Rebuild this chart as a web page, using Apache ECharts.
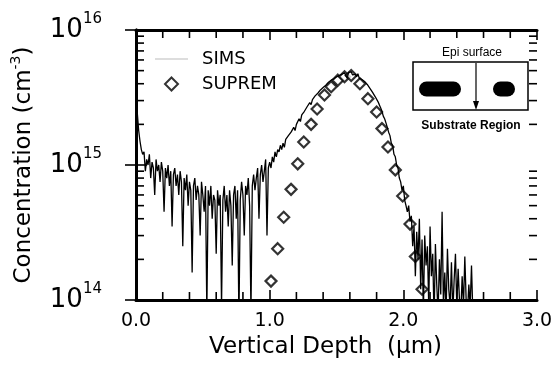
<!DOCTYPE html>
<html><head><meta charset="utf-8">
<script src="https://cdn.jsdelivr.net/npm/echarts@6/dist/echarts.min.js"></script>
<style>html,body{margin:0;padding:0;background:#fff}#c{width:553px;height:369px}</style>
</head><body><div id="c"></div>
<script>
// ---- data ----
const xTickLabels = ['0.0', '1.0', '2.0', '3.0'];
const xMinorTicks = [0.2, 0.4, 0.6, 0.8, 1.2, 1.4, 1.6, 1.8, 2.2, 2.4, 2.6, 2.8];
const yTickExponents = ['14', '15', '16'];
const yMinorTicks = [2e14, 3e14, 4e14, 5e14, 6e14, 7e14, 8e14, 9e14,
                     2e15, 3e15, 4e15, 5e15, 6e15, 7e15, 8e15, 9e15];
const X_MIN = 0, X_MAX = 3, Y_MIN = 1e14, Y_MAX = 1e16;
// SIMS profile: depth from 0 µm in 0.01 µm steps, concentration in units of 1e14 cm^-3
const simsStartDepth = 0.0;
const simsStepDepth = 0.01;
const simsConc = [
  32, 24, 18, 15, 13, 12, 12.5, 9, 11, 10,
  12, 8, 10.5, 9.5, 6, 11, 9, 10, 7.5, 10.5,
  9, 4.5, 9.5, 8, 10, 7, 9, 3.5, 8.5, 9.5,
  7, 8.5, 6, 9, 7.5, 2.5, 8, 6.5, 8.5, 5,
  7.5, 6.5, 1.6, 7, 8, 5.5, 7, 6, 3, 7.5,
  6, 4.5, 7, 0.8, 6.5, 5, 7, 4, 6, 5.5,
  2.2, 6.5, 5, 6, 0.9, 5.5, 7, 4.5, 6, 3.5,
  6.5, 5, 1.8, 6, 7, 4, 6.5, 0.7, 5.5, 7.5,
  6, 3, 7, 6, 8, 5, 0.8, 7, 8.5, 6.5,
  8, 9.5, 4, 8.5, 10, 7.5, 9, 11, 3, 9.5,
  10.5, 9.5, 11.5, 10.5, 12.5, 11.5, 13, 12.5, 14, 13,
  14.5, 13.5, 15.5, 15, 16.5, 16, 17.5, 17, 19, 18,
  20, 19.5, 22, 21, 23.5, 23, 25, 24.5, 27, 26.5,
  29, 28, 30.5, 31, 32.5, 32, 34, 34.5, 36, 35.5,
  37.5, 38, 39, 39.5, 41, 40.5, 42.5, 42, 43.5, 44,
  45, 44, 46, 45.5, 47, 46, 48, 47, 44, 48.5,
  47.5, 49, 46.5, 48, 47, 45, 47.5, 44, 45.5, 43,
  44, 41.5, 42, 39.5, 40, 37, 37.5, 34.5, 35, 32,
  31, 29.5, 28, 26.5, 25, 23, 22, 20.5, 19, 17.5,
  16.5, 14.5, 14, 12, 11.5, 10, 9.5, 8, 7.5, 6.5,
  7, 5.5, 5, 4.5, 5, 3.8, 4.2, 2.5, 3.5, 1.5,
  3.2, 2, 4, 1.2, 2.8, 0.8, 3, 1.8, 2.5, 0.9,
  3.5, 1.5, 2.2, 0.7, 2.6, 1.3, 0.8, 2, 1.1, 4.5,
  0.9, 1.6, 0.8, 2.4, 1.2, 0.9, 1.9, 0.8, 1.4, 2.2,
  0.9, 1.7, 1.0, 0.8, 1.5, 0.9, 2.1, 1.0, 0.8, 1.3,
  0.9, 1.8, 0.8
];
// SUPREM simulation points (depth µm, concentration in units of 1e14 cm^-3)
const supremDepth = [1.01, 1.06, 1.105, 1.16, 1.21, 1.255, 1.31, 1.355, 1.41, 1.46, 1.51, 1.56,
                     1.61, 1.675, 1.735, 1.80, 1.84, 1.885, 1.94, 1.995, 2.05, 2.09, 2.14];
const supremConc = [1.38, 2.4, 4.1, 6.6, 10.2, 14.8, 20, 26, 33, 38, 42.5, 45,
                    46, 40, 31, 24.7, 18.6, 13.6, 9.2, 5.9, 3.65, 2.1, 1.2];
const UNIT = 1e14;

// ---- build ----
const simsData = simsConc.map((v, i) => [+(simsStartDepth + i * simsStepDepth).toFixed(2), v * UNIT]);
const supremData = supremDepth.map((d, i) => [d, supremConc[i] * UNIT]);

const FF = 'DejaVu Sans';
const axisLineStyle = { color: '#000', width: 3 };
const MINOR_LEN = 8;

function tickLine(x1, y1, x2, y2) {
  return { type: 'line', z: 100, shape: { x1, y1, x2, y2 }, style: { stroke: '#000', lineWidth: 1.6 } };
}

const insetGraphics = [
  { type: 'text', x: 472, y: 53, style: { text: 'Epi surface', fontSize: 12, fontFamily: 'Liberation Sans', fill: '#000', align: 'center', verticalAlign: 'middle' } },
  { type: 'rect', shape: { x: 413, y: 62, width: 115, height: 48 }, style: { fill: '#fff', stroke: '#000', lineWidth: 1.5 } },
  { type: 'rect', shape: { x: 419, y: 81.5, width: 42, height: 15, r: 7.5 }, style: { fill: '#000' } },
  { type: 'rect', shape: { x: 493, y: 81.5, width: 22, height: 15, r: 7.5 }, style: { fill: '#000' } },
  { type: 'line', shape: { x1: 476, y1: 63, x2: 476, y2: 103 }, style: { stroke: '#000', lineWidth: 1.2 } },
  { type: 'polygon', shape: { points: [[473, 101], [479, 101], [476, 110]] }, style: { fill: '#000' } },
  { type: 'text', x: 471, y: 126, style: { text: 'Substrate Region', fontSize: 12, fontWeight: 'bold', fontFamily: 'Liberation Sans', fill: '#000', align: 'center', verticalAlign: 'middle' } }
];

const chart = echarts.init(document.getElementById('c'), null, { renderer: 'canvas' });
chart.setOption({
  animation: false,
  backgroundColor: '#fff',
  grid: { left: 136, right: 16, top: 30, bottom: 69, outerBoundsMode: 'none', containLabel: false },
  legend: {
    orient: 'vertical', left: 155, top: 49, padding: 0,
    itemWidth: 33, itemHeight: 13, itemGap: 5,
    textStyle: { fontSize: 18, fontFamily: FF, color: '#000', padding: [0, 0, 0, 9], lineHeight: 20 },
    data: [
      { name: 'SIMS', icon: 'path://M0,0H66V1H0Z', itemStyle: { color: '#777', borderWidth: 0 } },
      { name: 'SUPREM', icon: 'path://M5,0L10,5L5,10L0,5Z' }
    ]
  },
  xAxis: [
    {
      type: 'value', position: 'bottom', min: X_MIN, max: X_MAX, interval: 1,
      axisLine: { onZero: false, lineStyle: axisLineStyle },
      axisTick: { show: true, inside: true, length: 10, lineStyle: { color: '#000', width: 1.6 } },
      splitLine: { show: false },
      axisLabel: { formatter: v => xTickLabels[Math.round(v)], fontSize: 19, fontFamily: FF, color: '#000', margin: 12 },
      name: 'Vertical Depth  (µm)', nameLocation: 'middle', nameGap: 28,
      nameTextStyle: { fontSize: 23, fontFamily: FF, color: '#000', padding: [0, 22, 0, 0] }
    },
    {
      type: 'value', position: 'top', min: X_MIN, max: X_MAX, interval: 1,
      axisLine: { onZero: false, lineStyle: axisLineStyle },
      axisTick: { show: true, inside: true, length: 10, lineStyle: { color: '#000', width: 1.6 } },
      splitLine: { show: false },
      axisLabel: { show: false }
    }
  ],
  yAxis: [
    {
      type: 'log', logBase: 10, min: Y_MIN, max: Y_MAX, position: 'left',
      axisLine: { lineStyle: axisLineStyle },
      axisTick: { show: true, inside: true, length: 11, lineStyle: { color: '#000', width: 1.6 } },
      splitLine: { show: false },
      axisLabel: {
        margin: 34,
        formatter: v => '{b|10}{s|' + yTickExponents[Math.round(Math.log10(v)) - 14] + '}',
        rich: {
          b: { fontSize: 26, fontFamily: FF, color: '#000', lineHeight: 36 },
          s: { fontSize: 15, fontFamily: FF, color: '#000', verticalAlign: 'top' }
        }
      },
      name: 'Concentration (cm{s|-3})', nameLocation: 'middle', nameGap: 92,
      nameTextStyle: {
        fontSize: 23, fontFamily: FF, color: '#000', lineHeight: 30,
        rich: { s: { fontSize: 14, fontFamily: FF, color: '#000', verticalAlign: 'top' } }
      }
    },
    {
      type: 'log', logBase: 10, min: Y_MIN, max: Y_MAX, position: 'right',
      axisLine: { lineStyle: axisLineStyle },
      axisTick: { show: true, inside: true, length: 11, lineStyle: { color: '#000', width: 1.6 } },
      splitLine: { show: false }, axisLabel: { show: false }
    }
  ],
  series: [
    {
      name: 'SIMS', type: 'line', xAxisIndex: 0, yAxisIndex: 0, data: simsData,
      symbol: 'none', showSymbol: false, clip: true,
      itemStyle: { color: '#000' },
      lineStyle: { color: '#000', width: 1.3 }, z: 3
    },
    {
      name: 'SUPREM', type: 'scatter', xAxisIndex: 0, yAxisIndex: 0, data: supremData,
      symbol: 'diamond', symbolSize: 11,
      itemStyle: { color: '#fff', borderColor: '#000', borderWidth: 2.2 }, z: 2
    }
  ],
  graphic: insetGraphics
});

// Minor ticks (log-spaced on y, 0.2 µm on x), positioned through the chart's own axis scales.
const finder = { xAxisIndex: 0, yAxisIndex: 0 };
const tickGraphics = [];
yMinorTicks.forEach(v => {
  const pL = chart.convertToPixel(finder, [X_MIN, v]);
  const pR = chart.convertToPixel(finder, [X_MAX, v]);
  if (pL && pR) {
    tickGraphics.push(tickLine(pL[0], pL[1], pL[0] + MINOR_LEN, pL[1]));
    tickGraphics.push(tickLine(pR[0] - MINOR_LEN, pR[1], pR[0], pR[1]));
  }
});
xMinorTicks.forEach(x => {
  const pB = chart.convertToPixel(finder, [x, Y_MIN]);
  const pT = chart.convertToPixel(finder, [x, Y_MAX]);
  if (pB && pT) {
    tickGraphics.push(tickLine(pB[0], pB[1], pB[0], pB[1] - MINOR_LEN));
    tickGraphics.push(tickLine(pT[0], pT[1], pT[0], pT[1] + MINOR_LEN));
  }
});
chart.setOption({ graphic: insetGraphics.concat(tickGraphics) });
</script>
</body></html>
